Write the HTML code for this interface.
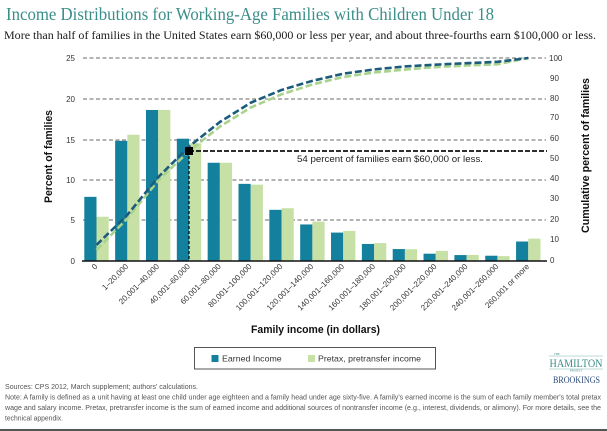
<!DOCTYPE html>
<html>
<head>
<meta charset="utf-8">
<style>
  html,body{margin:0;padding:0;background:#fff;}
  body{width:607px;height:431px;overflow:hidden;}
  svg{display:block;}
  text{font-family:"Liberation Sans",sans-serif;}
  .serif{font-family:"Liberation Serif",serif;}
  .tick{font-size:8px;fill:#333;}
  .xl{font-size:8px;fill:#333;}
  .foot{font-size:7px;fill:#555;}
</style>
</head>
<body>
<svg width="607" height="431" viewBox="0 0 607 431" xmlns="http://www.w3.org/2000/svg">
  <rect x="0" y="0" width="607" height="431" fill="#fff"/>

  <!-- Title & subtitle -->
  <text class="serif" x="6" y="20" font-size="18" fill="#3a8e89" textLength="488" lengthAdjust="spacingAndGlyphs">Income Distributions for Working-Age Families with Children Under 18</text>
  <text class="serif" x="4" y="39" font-size="11.5" fill="#1a1a1a" textLength="592" lengthAdjust="spacingAndGlyphs">More than half of families in the United States earn $60,000 or less per year, and about three-fourths earn $100,000 or less.</text>

  <!-- Gridlines -->
  <g stroke="#6a6a6a" stroke-width="1" stroke-dasharray="4 2.5">
    <line x1="83" y1="58" x2="546" y2="58"/>
    <line x1="83" y1="99" x2="546" y2="99"/>
    <line x1="83" y1="140" x2="546" y2="140"/>
    <line x1="83" y1="180" x2="546" y2="180"/>
    <line x1="83" y1="220" x2="546" y2="220"/>
  </g>

  <!-- Left ticks -->
  <g class="tick" text-anchor="end">
    <text x="75" y="61">25</text>
    <text x="75" y="102">20</text>
    <text x="75" y="143">15</text>
    <text x="75" y="183">10</text>
    <text x="75" y="223">5</text>
    <text x="75" y="264">0</text>
  </g>
  <!-- Right ticks -->
  <g class="tick">
    <text x="549" y="61">100</text>
    <text x="550" y="81">90</text>
    <text x="550" y="101">80</text>
    <text x="550" y="120">70</text>
    <text x="550" y="141">60</text>
    <text x="550" y="161">50</text>
    <text x="550" y="181">40</text>
    <text x="550" y="201">30</text>
    <text x="550" y="222">20</text>
    <text x="550" y="242">10</text>
    <text x="550" y="263">0</text>
  </g>

  <!-- Bars: earned -->
  <g fill="#13809d">
    <rect x="84.3" y="196.85" width="12.2" height="64.15"/>
    <rect x="115.14" y="140.82" width="12.2" height="120.18"/>
    <rect x="145.98" y="109.97" width="12.2" height="151.03"/>
    <rect x="176.82" y="138.71" width="12.2" height="122.29"/>
    <rect x="207.66" y="162.75" width="12.2" height="98.25"/>
    <rect x="238.5" y="183.86" width="12.2" height="77.14"/>
    <rect x="269.34" y="209.84" width="12.2" height="51.16"/>
    <rect x="300.18" y="224.46" width="12.2" height="36.54"/>
    <rect x="331.02" y="232.58" width="12.2" height="28.42"/>
    <rect x="361.86" y="243.95" width="12.2" height="17.05"/>
    <rect x="392.7" y="249.06" width="12.2" height="11.94"/>
    <rect x="423.54" y="253.69" width="12.2" height="7.31"/>
    <rect x="454.38" y="255.07" width="12.2" height="5.93"/>
    <rect x="485.22" y="255.72" width="12.2" height="5.28"/>
    <rect x="516.06" y="241.51" width="12.2" height="19.49"/>
  </g>
  <!-- Bars: pretax -->
  <g fill="#c6e0a6">
    <rect x="96.5" y="216.75" width="12.2" height="44.25"/>
    <rect x="127.34" y="134.73" width="12.2" height="126.27"/>
    <rect x="158.18" y="109.97" width="12.2" height="151.03"/>
    <rect x="189.02" y="143.26" width="12.2" height="117.74"/>
    <rect x="219.86" y="162.75" width="12.2" height="98.25"/>
    <rect x="250.7" y="184.67" width="12.2" height="76.33"/>
    <rect x="281.54" y="208.22" width="12.2" height="52.78"/>
    <rect x="312.38" y="221.62" width="12.2" height="39.38"/>
    <rect x="343.22" y="230.96" width="12.2" height="30.04"/>
    <rect x="374.06" y="243.14" width="12.2" height="17.86"/>
    <rect x="404.9" y="249.23" width="12.2" height="11.77"/>
    <rect x="435.74" y="250.85" width="12.2" height="10.15"/>
    <rect x="466.58" y="254.91" width="12.2" height="6.09"/>
    <rect x="497.42" y="256.13" width="12.2" height="4.87"/>
    <rect x="528.26" y="238.67" width="12.2" height="22.33"/>
  </g>

  <!-- 54 percent reference lines -->
  <line x1="189" y1="151" x2="189" y2="261" stroke="#000" stroke-width="1.2" stroke-dasharray="3 2"/>
  <line x1="189" y1="151" x2="547" y2="151" stroke="#111" stroke-width="1.8" stroke-dasharray="5 2"/>

  <!-- Cumulative curves -->
  <polyline fill="none" stroke="#a9d38c" stroke-width="2.6" stroke-dasharray="7 3" stroke-linejoin="round"
    points="96.5,249.94 127.34,218.37 158.18,180.61 189.02,151.18 219.86,126.61 250.7,107.53 281.54,94.34 312.38,84.49 343.22,76.98 374.06,72.51 404.9,69.57 435.74,67.03 466.58,65.51 497.42,64.29 528.26,58"/>
  <polyline fill="none" stroke="#1d5b7c" stroke-width="2.6" stroke-dasharray="7 3" stroke-linejoin="round"
    points="96.5,244.96 127.34,214.92 158.18,177.16 189.02,146.59 219.86,122.03 250.7,102.74 281.54,89.95 312.38,80.82 343.22,73.71 374.06,69.45 404.9,66.47 435.74,64.64 466.58,63.16 497.42,61.84 528.26,58"/>

  <rect x="185" y="147" width="8" height="8" fill="#000" shape-rendering="crispEdges"/>

  <text x="297" y="162" font-size="9" fill="#222" textLength="186" lengthAdjust="spacingAndGlyphs">54 percent of families earn $60,000 or less.</text>

  <!-- X axis -->
  <line x1="82" y1="261" x2="547" y2="261" stroke="#111" stroke-width="1.5"/>

  <!-- X labels -->
  <g class="xl" text-anchor="end">
    <text transform="translate(98,267) rotate(-45)">0</text>
    <text transform="translate(128.8,267) rotate(-45)">1–20,000</text>
    <text transform="translate(159.7,267) rotate(-45)">20,001–40,000</text>
    <text transform="translate(190.5,267) rotate(-45)">40,001–60,000</text>
    <text transform="translate(221.4,267) rotate(-45)">60,001–80,000</text>
    <text transform="translate(252.2,267) rotate(-45)">80,001–100,000</text>
    <text transform="translate(283,267) rotate(-45)">100,001–120,000</text>
    <text transform="translate(313.9,267) rotate(-45)">120,001–140,000</text>
    <text transform="translate(344.7,267) rotate(-45)">140,001–160,000</text>
    <text transform="translate(375.6,267) rotate(-45)">160,001–180,000</text>
    <text transform="translate(406.4,267) rotate(-45)">180,001–200,000</text>
    <text transform="translate(437.2,267) rotate(-45)">200,001–220,000</text>
    <text transform="translate(468.1,267) rotate(-45)">220,001–240,000</text>
    <text transform="translate(498.9,267) rotate(-45)">240,001–260,000</text>
    <text transform="translate(529.8,267) rotate(-45)">260,001 or more</text>
  </g>

  <!-- Axis titles -->
  <text transform="translate(52,156.5) rotate(-90)" text-anchor="middle" font-size="11" font-weight="bold" fill="#111" textLength="93" lengthAdjust="spacingAndGlyphs">Percent of families</text>
  <text transform="translate(589,155.5) rotate(-90)" text-anchor="middle" font-size="11" font-weight="bold" fill="#111" textLength="155" lengthAdjust="spacingAndGlyphs">Cumulative percent of families</text>
  <text x="251" y="333" font-size="11" font-weight="bold" fill="#111" textLength="129" lengthAdjust="spacingAndGlyphs">Family income (in dollars)</text>

  <!-- Legend -->
  <rect x="194.5" y="347.5" width="241" height="21.5" fill="#fff" stroke="#555" stroke-width="1"/>
  <rect x="211.5" y="355" width="7" height="7" fill="#13809d"/>
  <text x="222" y="361.5" font-size="8.5" fill="#333" textLength="59.7" lengthAdjust="spacingAndGlyphs">Earned Income</text>
  <rect x="308" y="355" width="7" height="7" fill="#c6e0a6"/>
  <text x="318" y="361.5" font-size="8.5" fill="#333" textLength="103" lengthAdjust="spacingAndGlyphs">Pretax, pretransfer income</text>

  <!-- Hamilton / Brookings logo -->
  <line x1="549" y1="356" x2="603" y2="356" stroke="#a9cfc9" stroke-width="0.8"/>
  <line x1="549" y1="369" x2="603" y2="369" stroke="#a9cfc9" stroke-width="0.8"/>
  <text class="serif" x="554" y="355" font-size="3" fill="#3a8e89">THE</text>
  <text class="serif" x="549.5" y="367" font-size="11.5" fill="#3a8e89" textLength="53" lengthAdjust="spacingAndGlyphs">HAMILTON</text>
  <text class="serif" x="570" y="371.5" font-size="3" fill="#3a8e89">PROJECT</text>
  <text class="serif" x="553" y="383" font-size="9" fill="#2b4c7a" textLength="47" lengthAdjust="spacingAndGlyphs">BROOKINGS</text>

  <!-- Footer -->
  <text class="foot" x="5" y="389" textLength="193" lengthAdjust="spacingAndGlyphs">Sources: CPS 2012, March supplement; authors' calculations.</text>
  <text class="foot" x="5" y="399.5" textLength="596" lengthAdjust="spacingAndGlyphs">Note: A family is defined as a unit having at least one child under age eighteen and a family head under age sixty-five. A family's earned income is the sum of each family member's total pretax</text>
  <text class="foot" x="5" y="410" textLength="596" lengthAdjust="spacingAndGlyphs">wage and salary income. Pretax, pretransfer income is the sum of earned income and additional sources of nontransfer income (e.g., interest, dividends, or alimony). For more details, see the</text>
  <text class="foot" x="5" y="420.5" textLength="58" lengthAdjust="spacingAndGlyphs">technical appendix.</text>

  <rect x="0" y="429" width="607" height="2" fill="#555"/>
</svg>
</body>
</html>
